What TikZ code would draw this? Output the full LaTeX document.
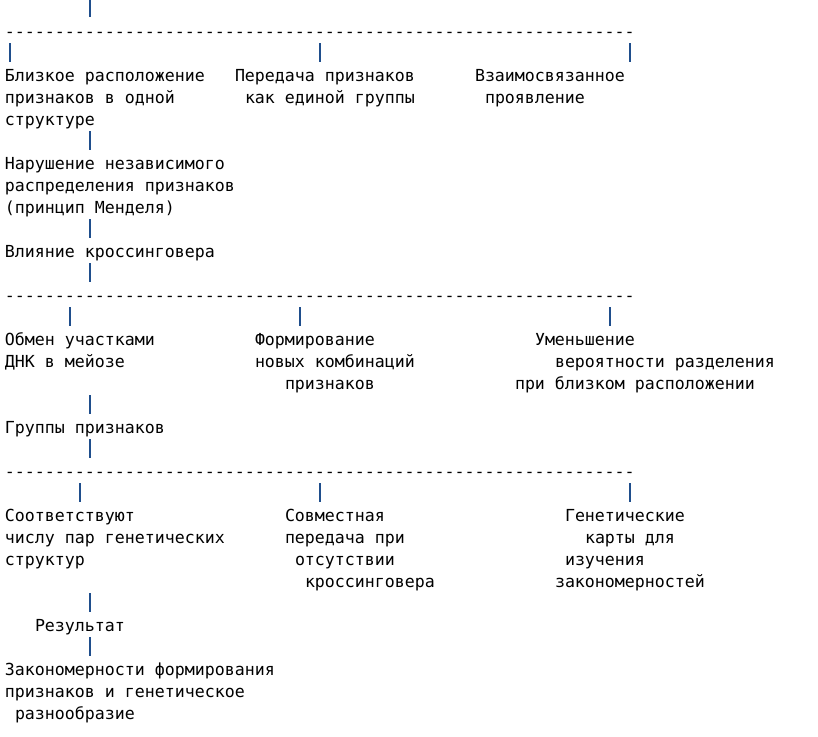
\documentclass[tikz,border=0pt]{standalone}
\usepackage{fontspec}
\setmonofont{DejaVu Sans Mono}
\definecolor{barblue}{RGB}{31,78,140}
\newcommand\txtat[4]{\node[txt] (#1) at ({5+10*#2},{721-22.03*#3}) {#4};}
\newcommand\barat[3]{\node[vbar] (#1) at ({10+10*#2},{728-22.03*#3}) {};}
\newcommand\dashrow{-------------------------------------------------------------\-\-}
\begin{document}
\begin{tikzpicture}[x=1pt,y=1pt,
  txt/.style={anchor=base west, inner sep=0pt, outer sep=0pt,
    font=\ttfamily\fontsize{16.6}{22}\selectfont, text=black},
  vbar/.style={fill=barblue, draw=none, inner sep=0pt, outer sep=0pt,
    minimum width=1.6pt, minimum height=19pt, anchor=center}]
\useasboundingbox (0,0) rectangle (818,736);
% block 1
\barat{b0}{8}{0}
\txtat{d1}{0}{1}{---------------------------------------------------------------}
\barat{b2a}{0}{2}
\barat{b2b}{31}{2}
\barat{b2c}{62}{2}
\txtat{t3a}{0}{3}{Близкое расположение}
\txtat{t3b}{23}{3}{Передача признаков}
\txtat{t3c}{47}{3}{Взаимосвязанное}
\txtat{t4a}{0}{4}{признаков в одной}
\txtat{t4b}{24}{4}{как единой группы}
\txtat{t4c}{48}{4}{проявление}
\txtat{t5a}{0}{5}{структуре}
\barat{b6}{8}{6}
\txtat{t7}{0}{7}{Нарушение независимого}
\txtat{t8}{0}{8}{распределения признаков}
\txtat{t9}{0}{9}{(принцип Менделя)}
\barat{b10}{8}{10}
\txtat{t11}{0}{11}{Влияние кроссинговера}
\barat{b12}{8}{12}
% block 2
\txtat{d13}{0}{13}{---------------------------------------------------------------}
\barat{b14a}{6}{14}
\barat{b14b}{29}{14}
\barat{b14c}{60}{14}
\txtat{t15a}{0}{15}{Обмен участками}
\txtat{t15b}{25}{15}{Формирование}
\txtat{t15c}{53}{15}{Уменьшение}
\txtat{t16a}{0}{16}{ДНК в мейозе}
\txtat{t16b}{25}{16}{новых комбинаций}
\txtat{t16c}{55}{16}{вероятности разделения}
\txtat{t17b}{28}{17}{признаков}
\txtat{t17c}{51}{17}{при близком расположении}
\barat{b18}{8}{18}
\txtat{t19}{0}{19}{Группы признаков}
\barat{b20}{8}{20}
% block 3
\txtat{d21}{0}{21}{---------------------------------------------------------------}
\barat{b22a}{7}{22}
\barat{b22b}{31}{22}
\barat{b22c}{62}{22}
\txtat{t23a}{0}{23}{Соответствуют}
\txtat{t23b}{28}{23}{Совместная}
\txtat{t23c}{56}{23}{Генетические}
\txtat{t24a}{0}{24}{числу пар генетических}
\txtat{t24b}{28}{24}{передача при}
\txtat{t24c}{58}{24}{карты для}
\txtat{t25a}{0}{25}{структур}
\txtat{t25b}{29}{25}{отсутствии}
\txtat{t25c}{56}{25}{изучения}
\txtat{t26b}{30}{26}{кроссинговера}
\txtat{t26c}{55}{26}{закономерностей}
\barat{b27}{8}{27}
\txtat{t28}{3}{28}{Результат}
\barat{b29}{8}{29}
\txtat{t30}{0}{30}{Закономерности формирования}
\txtat{t31}{0}{31}{признаков и генетическое}
\txtat{t32}{1}{32}{разнообразие}
\end{tikzpicture}
\end{document}
